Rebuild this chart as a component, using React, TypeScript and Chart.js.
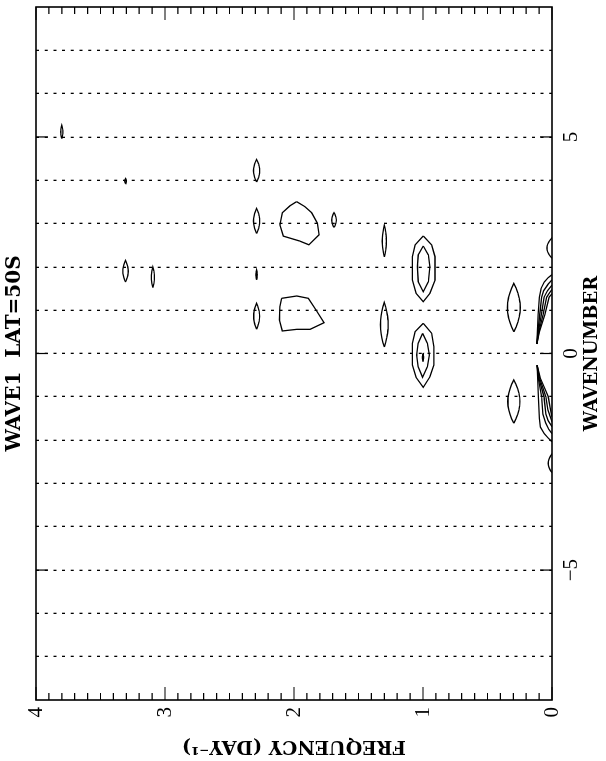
import { useEffect, useRef } from 'react';
import { Chart, registerables } from 'chart.js';

Chart.register(...registerables);

// Axis ranges and labelled ticks
const WAVENUMBER_MIN = -8;
const WAVENUMBER_MAX = 8;
const FREQ_MIN = 0;
const FREQ_MAX = 4;
const WAVENUMBER_TICKS = [-5, 0, 5];
const FREQUENCY_TICKS = [0, 1, 2, 3, 4];
const FREQ_MINOR_STEP = 0.1;

// Small isolated contours (lens shaped): wavenumber extent, centre frequency, half width in frequency
const lensKFrom = [4.96, 3.92, 3.96, 2.77, 1.7, 0.56, 2.91, 2.23, 0.15, 1.65, 1.52, 0.5, -1.61, -0.19, 2.2, -2.75];
const lensKTo = [5.27, 4.04, 4.48, 3.35, 1.93, 1.16, 3.25, 2.96, 1.18, 2.15, 2.0, 1.62, -0.61, 0.01, 2.67, -2.32];
const lensFreq = [3.8, 3.306, 2.29, 2.29, 2.29, 2.29, 1.69, 1.3, 1.3, 3.306, 3.094, 0.296, 0.296, 1.0, 0.0, 0.0];
const lensHalfWidth = [0.008, 0.006, 0.024, 0.024, 0.005, 0.023, 0.018, 0.016, 0.03, 0.021, 0.012, 0.05, 0.047, 0.004, 0.04, 0.03];

// Closed contours, [wavenumber, frequency]
const blobNear2Upper = [
  [3.506, 1.979], [3.39, 1.915], [3.25, 1.863], [3.01, 1.819], [2.74, 1.806], [2.51, 1.884],
  [2.6, 1.959], [2.71, 2.083], [2.97, 2.109], [3.25, 2.091], [3.41, 2.031],
];
const blobNear2Lower = [
  [1.274, 2.096], [1.328, 1.979], [1.274, 1.889], [1.005, 1.829], [0.711, 1.767], [0.558, 1.876],
  [0.558, 1.979], [0.52, 2.091], [0.774, 2.114], [1.081, 2.109],
];
const ringK2Outer = [
  [2.714, 0.998], [2.506, 0.933], [2.236, 0.907], [1.697, 0.907], [1.39, 0.946], [1.196, 0.998],
  [1.39, 1.054], [1.697, 1.083], [2.236, 1.083], [2.506, 1.062],
];
const ringK2Inner = [
  [2.483, 0.998], [2.275, 0.959], [2.005, 0.946], [1.658, 0.959], [1.427, 0.998],
  [1.658, 1.037], [2.005, 1.044], [2.275, 1.037],
];
const ringK0Outer = [
  [0.697, 0.998], [0.466, 0.933], [0.157, 0.915], [-0.266, 0.915], [-0.536, 0.946], [-0.781, 0.998],
  [-0.55, 1.054], [-0.266, 1.083], [0.235, 1.083], [0.503, 1.062],
];
const ringK0Inner = [
  [0.466, 1.003], [0.235, 0.966], [-0.035, 0.951], [-0.305, 0.966], [-0.55, 1.003],
  [-0.305, 1.037], [-0.035, 1.049], [0.235, 1.037],
];

// Low-frequency contours that run into the zero-frequency edge
const lowPos = [
  [[0.22, 0.118], [0.5, 0.114], [0.9, 0.108], [1.3, 0.098], [1.5, 0.085], [1.65, 0.06], [1.75, 0.03], [1.82, 0]],
  [[0.22, 0.118], [0.5, 0.11], [0.9, 0.095], [1.3, 0.08], [1.45, 0.065], [1.6, 0.03], [1.7, 0]],
  [[0.22, 0.118], [0.5, 0.106], [0.9, 0.082], [1.3, 0.062], [1.45, 0.035], [1.58, 0]],
  [[0.22, 0.118], [0.5, 0.102], [0.9, 0.068], [1.3, 0.041], [1.4, 0.02], [1.48, 0]],
  [[0.22, 0.118], [0.5, 0.098], [0.9, 0.055], [1.3, 0.023], [1.38, 0]],
];
const lowNeg = [
  [[-0.27, 0.115], [-0.55, 0.112], [-1.0, 0.105], [-1.5, 0.098], [-1.7, 0.09], [-1.85, 0.06], [-1.95, 0.03], [-2.04, 0]],
  [[-0.27, 0.115], [-0.55, 0.108], [-1.0, 0.08], [-1.4, 0.07], [-1.6, 0.05], [-1.75, 0.025], [-1.85, 0]],
  [[-0.27, 0.115], [-0.55, 0.103], [-1.0, 0.062], [-1.4, 0.048], [-1.55, 0.03], [-1.69, 0]],
  [[-0.27, 0.115], [-0.55, 0.098], [-1.0, 0.047], [-1.3, 0.032], [-1.45, 0.015], [-1.58, 0]],
  [[-0.27, 0.115], [-0.55, 0.093], [-1.0, 0.029], [-1.25, 0.015], [-1.46, 0]],
];

const toPoints = (arr: number[][]) => arr.map(([k, f]) => ({ x: k, y: f }));
const closedPoints = (arr: number[][]) => toPoints([...arr, arr[0]]);

function lensOutline(kFrom: number, kTo: number, f0: number, w: number) {
  const n = 10;
  const side: number[][] = [];
  for (let i = 0; i <= n; i++) {
    const t = i / n;
    side.push([kFrom + (kTo - kFrom) * t, f0 + w * Math.pow(Math.sin(Math.PI * t), 0.9)]);
  }
  const back: number[][] = [];
  for (let i = n - 1; i >= 0; i--) {
    const t = i / n;
    back.push([kFrom + (kTo - kFrom) * t, f0 - w * Math.pow(Math.sin(Math.PI * t), 0.9)]);
  }
  return toPoints([...side, ...back]);
}

const lineStyle = {
  showLine: true,
  pointRadius: 0,
  pointHoverRadius: 0,
  borderColor: '#000',
  borderWidth: 1.3,
  tension: 0,
  fill: false,
};

function buildDatasets() {
  const sets: any[] = [];
  lensKFrom.forEach((_, i) => {
    sets.push({ ...lineStyle, data: lensOutline(lensKFrom[i], lensKTo[i], lensFreq[i], lensHalfWidth[i]) });
  });
  [blobNear2Upper, blobNear2Lower, ringK2Outer, ringK2Inner, ringK0Outer, ringK0Inner].forEach((c) => {
    sets.push({ ...lineStyle, data: closedPoints(c) });
  });
  [...lowPos, ...lowNeg].forEach((c) => {
    sets.push({ ...lineStyle, data: toPoints(c) });
  });
  return sets;
}

// Plot frame with inward tick marks on all four sides
const frameTicks = {
  id: 'frameTicks',
  afterDatasetsDraw(chart: any) {
    const { ctx, chartArea, scales } = chart;
    const { left, right, top, bottom } = chartArea;
    const x = scales.x;
    const y = scales.y;
    ctx.save();
    ctx.strokeStyle = '#000';
    ctx.lineWidth = 1.2;
    ctx.beginPath();
    const count = Math.round((FREQ_MAX - FREQ_MIN) / FREQ_MINOR_STEP);
    for (let i = 0; i <= count; i++) {
      const f = FREQ_MIN + i * FREQ_MINOR_STEP;
      const py = y.getPixelForValue(f);
      const len = i % 10 === 0 ? 13 : 7;
      ctx.moveTo(left, py);
      ctx.lineTo(left + len, py);
      ctx.moveTo(right, py);
      ctx.lineTo(right - len, py);
    }
    WAVENUMBER_TICKS.forEach((k) => {
      const px = x.getPixelForValue(k);
      ctx.moveTo(px, top);
      ctx.lineTo(px, top + 12);
      ctx.moveTo(px, bottom);
      ctx.lineTo(px, bottom - 12);
    });
    ctx.stroke();
    ctx.lineWidth = 1.6;
    ctx.strokeRect(left, top, right - left, bottom - top);
    ctx.restore();
  },
};

const tickFont = { family: 'Liberation Serif', size: 21 };
const titleFont = { family: 'DejaVu Serif', weight: 'bold' as const };

export default function App() {
  const ref = useRef<HTMLCanvasElement>(null);

  useEffect(() => {
    document.body.style.margin = '0';
    const canvas = ref.current;
    if (!canvas) return;
    const chart = new Chart(canvas, {
      type: 'scatter',
      data: { datasets: buildDatasets() },
      options: {
        responsive: false,
        animation: false,
        devicePixelRatio: 1,
        events: [],
        layout: { padding: { left: 0, right: 7, top: 0, bottom: 0 } },
        plugins: {
          legend: { display: false },
          tooltip: { enabled: false },
          title: {
            display: true,
            text: 'WAVE1  LAT=50S',
            color: '#000',
            fullSize: false,
            font: { ...titleFont, size: 20 },
            padding: { top: 3, bottom: 9 },
          },
        },
        scales: {
          x: {
            type: 'linear',
            position: 'bottom',
            min: WAVENUMBER_MIN,
            max: WAVENUMBER_MAX,
            afterFit: (s: any) => {
              s.height = 54;
            },
            ticks: {
              stepSize: 1,
              autoSkip: false,
              maxRotation: 0,
              minRotation: 0,
              padding: 7,
              color: '#000',
              font: tickFont,
              callback: (v: any) => (WAVENUMBER_TICKS.includes(Number(v)) ? (Number(v) < 0 ? '\u2212' + Math.abs(Number(v)) : String(v)) : ''),
            },
            grid: {
              drawTicks: false,
              lineWidth: 1.3,
              color: (c: any) =>
                c.tick && (c.tick.value === WAVENUMBER_MIN || c.tick.value === WAVENUMBER_MAX) ? 'rgba(0,0,0,0)' : '#000',
            },
            border: { display: false, dash: [3, 5.7] },
            title: {
              display: true,
              text: 'WAVENUMBER',
              color: '#000',
              font: { ...titleFont, size: 18 },
              padding: { top: 0, bottom: 3 },
            },
          },
          y: {
            type: 'linear',
            min: FREQ_MIN,
            max: FREQ_MAX,
            afterFit: (s: any) => {
              s.width = 61;
            },
            afterBuildTicks: (s: any) => {
              s.ticks = FREQUENCY_TICKS.map((v) => ({ value: v }));
            },
            ticks: {
              padding: 7,
              color: '#000',
              font: tickFont,
            },
            grid: { display: false, drawTicks: false },
            border: { display: false },
            title: {
              display: true,
              text: 'FREQUENCY (DAY\u207B\u00B9)',
              color: '#000',
              font: { ...titleFont, size: 19 },
              padding: { top: 4, bottom: 0 },
            },
          },
        },
      },
      plugins: [frameTicks],
    });
    return () => chart.destroy();
  }, []);

  return (
    <div style={{ position: 'relative', width: 606, height: 761, overflow: 'hidden', background: '#fff' }}>
      <canvas
        ref={ref}
        width={761}
        height={606}
        style={{
          position: 'absolute',
          left: 0,
          top: 0,
          width: 761,
          height: 606,
          transformOrigin: '0 0',
          transform: 'translateY(761px) rotate(-90deg)',
        }}
      />
    </div>
  );
}
